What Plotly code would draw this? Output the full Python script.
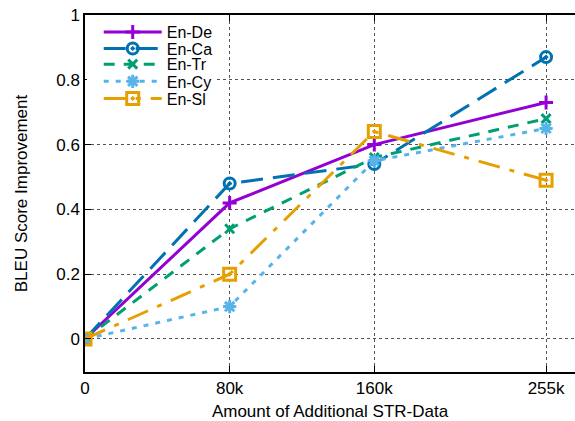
import plotly.graph_objects as go

x_vals = [0, 80000, 160000, 255000]
x_labels = ["0", "80k", "160k", "255k"]

series_names = ["En-De", "En-Ca", "En-Tr", "En-Cy", "En-Sl"]
en_de = [0, 0.42, 0.60, 0.73]
en_ca = [0, 0.48, 0.54, 0.87]
en_tr = [0, 0.34, 0.56, 0.68]
en_cy = [0, 0.10, 0.55, 0.65]
en_sl = [0, 0.20, 0.64, 0.49]

colors = ["#9400D3", "#0072B2", "#009E73", "#56B4E9", "#E69F00"]
dashes = ["solid", "22px,10px", "11px,9px", "5px,7px", "22px,10px,5px,10px"]
symbols = ["cross-thin-open", "circle-open-dot", "x-thin-open", "asterisk-open", "square-open-dot"]
sizes = [10, 11, 9, 11, 12]

# legend layout (paper coords): each entry gets its own legend box
legend_names = ["legend", "legend2", "legend3", "legend4", "legend5"]
legend_y = [0.952, 0.906, 0.862, 0.814, 0.766]

fig = go.Figure()
for name, ys, c, d, s, sz, lg in zip(series_names, [en_de, en_ca, en_tr, en_cy, en_sl],
                                     colors, dashes, symbols, sizes, legend_names):
    fig.add_trace(go.Scatter(
        x=x_vals, y=ys, name=name, mode="lines+markers",
        line=dict(color=c, width=3, dash=d),
        marker=dict(symbol=s, size=sz, color=c, line=dict(color=c, width=3)),
        legend=lg,
    ))

font = "Liberation Sans, Arial, sans-serif"
legend_common = dict(x=0.028, xanchor="left", yanchor="middle",
                     bgcolor="rgba(0,0,0,0)", borderwidth=0, font=dict(size=16),
                     itemwidth=58)
layout_legends = {lg: dict(y=yv, **legend_common) for lg, yv in zip(legend_names, legend_y)}

fig.update_layout(
    width=575, height=421,
    margin=dict(l=85, r=0, t=15, b=49),
    paper_bgcolor="white", plot_bgcolor="white",
    font=dict(family=font, size=17, color="black"),
    showlegend=True,
    xaxis=dict(range=[0, 271000], tickvals=x_vals, ticktext=x_labels,
               showgrid=True, gridcolor="#555", griddash="dot", gridwidth=1,
               ticks="inside", ticklen=6, tickcolor="black",
               showline=True, linecolor="black", linewidth=1.5, mirror="ticks",
               zeroline=False,
               title=dict(text="Amount of Additional STR-Data", standoff=8, font=dict(size=17)),
               tickfont=dict(size=17)),
    yaxis=dict(range=[-0.102, 1], tickvals=[0, 0.2, 0.4, 0.6, 0.8, 1],
               ticktext=["0", "0.2", "0.4", "0.6", "0.8", "1"],
               showgrid=True, gridcolor="#555", griddash="dot", gridwidth=1,
               ticks="inside", ticklen=6, tickcolor="black",
               showline=True, linecolor="black", linewidth=1.5, mirror=False,
               zeroline=False,
               title=dict(text="BLEU Score Improvement", standoff=24, font=dict(size=17)),
               tickfont=dict(size=17)),
    shapes=[dict(type="rect", xref="paper", yref="paper", x0=0.004, x1=0.269,
                 y0=0.745, y1=0.98, fillcolor="white", line=dict(width=0), layer="above")],
    **layout_legends,
)

fig.write_html("out.html", config={"displayModeBar": False},
               post_script="document.body.style.margin='0';")
